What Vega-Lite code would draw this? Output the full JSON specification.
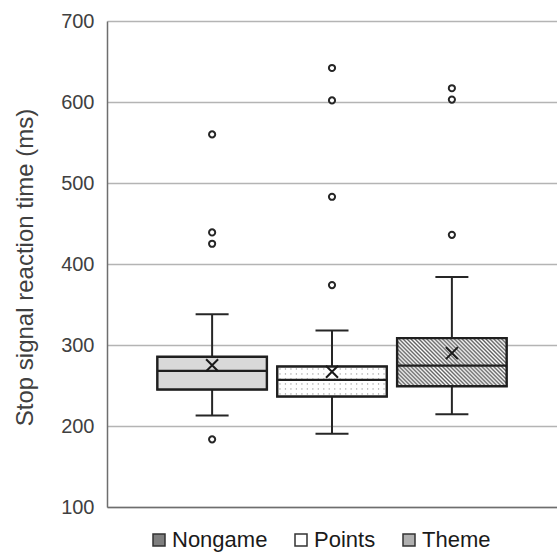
{
  "$schema": "https://vega.github.io/schema/vega-lite/v6.json",
  "autosize": {"type": "none"},
  "padding": {"left": 107, "top": 21, "right": 0, "bottom": 45},
  "width": 450,
  "height": 486,
  "config": {
    "view": {"stroke": null},
    "axisY": {
      "grid": true, "gridColor": "#b4b4b4", "gridWidth": 1.5,
      "domain": true, "domainColor": "#6e6e6e", "domainWidth": 1.5,
      "ticks": false, "tickCount": 6,
      "labelFontSize": 20, "labelFont": "Liberation Sans", "labelColor": "#404040", "labelPadding": 13,
      "titleFontSize": 24, "titleFont": "Liberation Sans", "titleFontWeight": "normal", "titleColor": "#404040"
    }
  },
  "datasets": {
    "boxes": [
      {"group": "Nongame", "lower": 213, "q1": 245, "median": 268, "q3": 285.5, "upper": 338, "mean": 275},
      {"group": "Points", "lower": 190.5, "q1": 236.5, "median": 257, "q3": 273.5, "upper": 318, "mean": 267},
      {"group": "Theme", "lower": 214.5, "q1": 249, "median": 274.5, "q3": 308.5, "upper": 384, "mean": 290}
    ],
    "outliers": [
      {"group": "Nongame", "value": 560},
      {"group": "Nongame", "value": 439},
      {"group": "Nongame", "value": 425},
      {"group": "Nongame", "value": 183.5},
      {"group": "Points", "value": 642},
      {"group": "Points", "value": 602},
      {"group": "Points", "value": 483},
      {"group": "Points", "value": 374},
      {"group": "Theme", "value": 617},
      {"group": "Theme", "value": 603},
      {"group": "Theme", "value": 436}
    ]
  },
  "encoding": {
    "x": {
      "field": "group", "type": "nominal",
      "scale": {"domain": ["Nongame", "Points", "Theme"], "paddingInner": 0.0864, "paddingOuter": 0.42, "align": 0.5},
      "axis": {"title": null, "labels": false, "ticks": false, "grid": false, "domainColor": "#6e6e6e", "domainWidth": 1.5}
    }
  },
  "layer": [
    {
      "data": {"name": "boxes"},
      "mark": {"type": "rule", "color": "#262626", "strokeWidth": 2, "opacity": 1},
      "encoding": {
        "y": {"field": "lower", "type": "quantitative", "title": "Stop signal reaction time (ms)",
              "scale": {"domain": [100, 700], "zero": false, "nice": false},
              "axis": {"titleX": -82, "titleY": 246, "titleBaseline": "middle", "titleAlign": "center"}},
        "y2": {"field": "upper"}
      }
    },
    {
      "data": {"name": "boxes"},
      "mark": {"type": "tick", "color": "#262626", "size": 33, "thickness": 2, "opacity": 1},
      "encoding": {"y": {"field": "lower", "type": "quantitative", "scale": {"domain": [100, 700], "zero": false, "nice": false}}}
    },
    {
      "data": {"name": "boxes"},
      "mark": {"type": "tick", "color": "#262626", "size": 33, "thickness": 2, "opacity": 1},
      "encoding": {"y": {"field": "upper", "type": "quantitative", "scale": {"domain": [100, 700], "zero": false, "nice": false}}}
    },
    {
      "data": {"name": "boxes"},
      "mark": {"type": "bar", "stroke": "#262626", "strokeWidth": 1.5},
      "encoding": {
        "y": {"field": "q1", "type": "quantitative", "scale": {"domain": [100, 700], "zero": false, "nice": false}},
        "y2": {"field": "q3"},
        "fill": {
          "field": "group", "type": "nominal",
          "scale": {"domain": ["Nongame", "Points", "Theme"], "range": ["#7f7f7f", "#ffffff", "#b0b0b0"]},
          "legend": {
            "orient": "none", "legendX": 41, "legendY": 508, "direction": "horizontal", "title": null,
            "symbolType": "square", "symbolSize": 144, "symbolStrokeColor": "#333333", "symbolStrokeWidth": 1.5,
            "labelFontSize": 22, "labelFont": "Liberation Sans", "labelColor": "#1a1a1a", "labelOffset": 2, "columnPadding": 22
          }
        }
      }
    },
    {
      "data": {"name": "boxes"},
      "transform": [{"filter": "datum.group === 'Nongame'"}],
      "mark": {"type": "bar", "fill": "#d9d9d9"},
      "encoding": {
        "y": {"field": "q1", "type": "quantitative", "scale": {"domain": [100, 700], "zero": false, "nice": false}},
        "y2": {"field": "q3"}
      }
    },
    {
      "data": {"name": "boxes"},
      "transform": [{"filter": "datum.group === 'Points'"}],
      "mark": {"type": "bar", "fill": {"gradient": "linear", "x1": 0, "y1": 0, "x2": 1, "y2": 0, "stops": [
        {"offset": 0, "color": "#ffffff"},
        {"offset": 0.015, "color": "#ffffff"}, {"offset": 0.025, "color": "#8c8c8c"}, {"offset": 0.035, "color": "#ffffff"},
        {"offset": 0.065, "color": "#ffffff"}, {"offset": 0.075, "color": "#8c8c8c"}, {"offset": 0.085, "color": "#ffffff"},
        {"offset": 0.115, "color": "#ffffff"}, {"offset": 0.125, "color": "#8c8c8c"}, {"offset": 0.135, "color": "#ffffff"},
        {"offset": 0.165, "color": "#ffffff"}, {"offset": 0.175, "color": "#8c8c8c"}, {"offset": 0.185, "color": "#ffffff"},
        {"offset": 0.215, "color": "#ffffff"}, {"offset": 0.225, "color": "#8c8c8c"}, {"offset": 0.235, "color": "#ffffff"},
        {"offset": 0.265, "color": "#ffffff"}, {"offset": 0.275, "color": "#8c8c8c"}, {"offset": 0.285, "color": "#ffffff"},
        {"offset": 0.315, "color": "#ffffff"}, {"offset": 0.325, "color": "#8c8c8c"}, {"offset": 0.335, "color": "#ffffff"},
        {"offset": 0.365, "color": "#ffffff"}, {"offset": 0.375, "color": "#8c8c8c"}, {"offset": 0.385, "color": "#ffffff"},
        {"offset": 0.415, "color": "#ffffff"}, {"offset": 0.425, "color": "#8c8c8c"}, {"offset": 0.435, "color": "#ffffff"},
        {"offset": 0.465, "color": "#ffffff"}, {"offset": 0.475, "color": "#8c8c8c"}, {"offset": 0.485, "color": "#ffffff"},
        {"offset": 0.515, "color": "#ffffff"}, {"offset": 0.525, "color": "#8c8c8c"}, {"offset": 0.535, "color": "#ffffff"},
        {"offset": 0.565, "color": "#ffffff"}, {"offset": 0.575, "color": "#8c8c8c"}, {"offset": 0.585, "color": "#ffffff"},
        {"offset": 0.615, "color": "#ffffff"}, {"offset": 0.625, "color": "#8c8c8c"}, {"offset": 0.635, "color": "#ffffff"},
        {"offset": 0.665, "color": "#ffffff"}, {"offset": 0.675, "color": "#8c8c8c"}, {"offset": 0.685, "color": "#ffffff"},
        {"offset": 0.715, "color": "#ffffff"}, {"offset": 0.725, "color": "#8c8c8c"}, {"offset": 0.735, "color": "#ffffff"},
        {"offset": 0.765, "color": "#ffffff"}, {"offset": 0.775, "color": "#8c8c8c"}, {"offset": 0.785, "color": "#ffffff"},
        {"offset": 0.815, "color": "#ffffff"}, {"offset": 0.825, "color": "#8c8c8c"}, {"offset": 0.835, "color": "#ffffff"},
        {"offset": 0.865, "color": "#ffffff"}, {"offset": 0.875, "color": "#8c8c8c"}, {"offset": 0.885, "color": "#ffffff"},
        {"offset": 0.915, "color": "#ffffff"}, {"offset": 0.925, "color": "#8c8c8c"}, {"offset": 0.935, "color": "#ffffff"},
        {"offset": 0.965, "color": "#ffffff"}, {"offset": 0.975, "color": "#8c8c8c"}, {"offset": 0.985, "color": "#ffffff"},
        {"offset": 1, "color": "#ffffff"}
      ]}},
      "encoding": {
        "y": {"field": "q1", "type": "quantitative", "scale": {"domain": [100, 700], "zero": false, "nice": false}},
        "y2": {"field": "q3"}
      }
    },
    {
      "data": {"name": "boxes"},
      "transform": [{"filter": "datum.group === 'Points'"}],
      "mark": {"type": "bar", "fill": {"gradient": "linear", "x1": 0, "y1": 0, "x2": 0, "y2": 1, "stops": [
        {"offset": 0, "color": "#ffffff"},
        {"offset": 0.045, "color": "#ffffff"}, {"offset": 0.0833, "color": "rgba(255,255,255,0)"}, {"offset": 0.122, "color": "#ffffff"},
        {"offset": 0.2117, "color": "#ffffff"}, {"offset": 0.25, "color": "rgba(255,255,255,0)"}, {"offset": 0.2883, "color": "#ffffff"},
        {"offset": 0.3783, "color": "#ffffff"}, {"offset": 0.4167, "color": "rgba(255,255,255,0)"}, {"offset": 0.455, "color": "#ffffff"},
        {"offset": 0.545, "color": "#ffffff"}, {"offset": 0.5833, "color": "rgba(255,255,255,0)"}, {"offset": 0.6217, "color": "#ffffff"},
        {"offset": 0.7117, "color": "#ffffff"}, {"offset": 0.75, "color": "rgba(255,255,255,0)"}, {"offset": 0.7883, "color": "#ffffff"},
        {"offset": 0.8783, "color": "#ffffff"}, {"offset": 0.9167, "color": "rgba(255,255,255,0)"}, {"offset": 0.955, "color": "#ffffff"},
        {"offset": 1, "color": "#ffffff"}
      ]}},
      "encoding": {
        "y": {"field": "q1", "type": "quantitative", "scale": {"domain": [100, 700], "zero": false, "nice": false}},
        "y2": {"field": "q3"}
      }
    },
    {
      "data": {"name": "boxes"},
      "transform": [{"filter": "datum.group === 'Theme'"}],
      "mark": {"type": "bar", "fill": {"gradient": "linear", "x1": 0, "y1": 1, "x2": 1.207, "y2": 0.47, "stops": [
        {"offset": 0, "color": "#ffffff"}, {"offset": 0.0125, "color": "#606060"},
        {"offset": 0.025, "color": "#ffffff"}, {"offset": 0.0375, "color": "#606060"},
        {"offset": 0.05, "color": "#ffffff"}, {"offset": 0.0625, "color": "#606060"},
        {"offset": 0.075, "color": "#ffffff"}, {"offset": 0.0875, "color": "#606060"},
        {"offset": 0.1, "color": "#ffffff"}, {"offset": 0.1125, "color": "#606060"},
        {"offset": 0.125, "color": "#ffffff"}, {"offset": 0.1375, "color": "#606060"},
        {"offset": 0.15, "color": "#ffffff"}, {"offset": 0.1625, "color": "#606060"},
        {"offset": 0.175, "color": "#ffffff"}, {"offset": 0.1875, "color": "#606060"},
        {"offset": 0.2, "color": "#ffffff"}, {"offset": 0.2125, "color": "#606060"},
        {"offset": 0.225, "color": "#ffffff"}, {"offset": 0.2375, "color": "#606060"},
        {"offset": 0.25, "color": "#ffffff"}, {"offset": 0.2625, "color": "#606060"},
        {"offset": 0.275, "color": "#ffffff"}, {"offset": 0.2875, "color": "#606060"},
        {"offset": 0.3, "color": "#ffffff"}, {"offset": 0.3125, "color": "#606060"},
        {"offset": 0.325, "color": "#ffffff"}, {"offset": 0.3375, "color": "#606060"},
        {"offset": 0.35, "color": "#ffffff"}, {"offset": 0.3625, "color": "#606060"},
        {"offset": 0.375, "color": "#ffffff"}, {"offset": 0.3875, "color": "#606060"},
        {"offset": 0.4, "color": "#ffffff"}, {"offset": 0.4125, "color": "#606060"},
        {"offset": 0.425, "color": "#ffffff"}, {"offset": 0.4375, "color": "#606060"},
        {"offset": 0.45, "color": "#ffffff"}, {"offset": 0.4625, "color": "#606060"},
        {"offset": 0.475, "color": "#ffffff"}, {"offset": 0.4875, "color": "#606060"},
        {"offset": 0.5, "color": "#ffffff"}, {"offset": 0.5125, "color": "#606060"},
        {"offset": 0.525, "color": "#ffffff"}, {"offset": 0.5375, "color": "#606060"},
        {"offset": 0.55, "color": "#ffffff"}, {"offset": 0.5625, "color": "#606060"},
        {"offset": 0.575, "color": "#ffffff"}, {"offset": 0.5875, "color": "#606060"},
        {"offset": 0.6, "color": "#ffffff"}, {"offset": 0.6125, "color": "#606060"},
        {"offset": 0.625, "color": "#ffffff"}, {"offset": 0.6375, "color": "#606060"},
        {"offset": 0.65, "color": "#ffffff"}, {"offset": 0.6625, "color": "#606060"},
        {"offset": 0.675, "color": "#ffffff"}, {"offset": 0.6875, "color": "#606060"},
        {"offset": 0.7, "color": "#ffffff"}, {"offset": 0.7125, "color": "#606060"},
        {"offset": 0.725, "color": "#ffffff"}, {"offset": 0.7375, "color": "#606060"},
        {"offset": 0.75, "color": "#ffffff"}, {"offset": 0.7625, "color": "#606060"},
        {"offset": 0.775, "color": "#ffffff"}, {"offset": 0.7875, "color": "#606060"},
        {"offset": 0.8, "color": "#ffffff"}, {"offset": 0.8125, "color": "#606060"},
        {"offset": 0.825, "color": "#ffffff"}, {"offset": 0.8375, "color": "#606060"},
        {"offset": 0.85, "color": "#ffffff"}, {"offset": 0.8625, "color": "#606060"},
        {"offset": 0.875, "color": "#ffffff"}, {"offset": 0.8875, "color": "#606060"},
        {"offset": 0.9, "color": "#ffffff"}, {"offset": 0.9125, "color": "#606060"},
        {"offset": 0.925, "color": "#ffffff"}, {"offset": 0.9375, "color": "#606060"},
        {"offset": 0.95, "color": "#ffffff"}, {"offset": 0.9625, "color": "#606060"},
        {"offset": 0.975, "color": "#ffffff"}, {"offset": 0.9875, "color": "#606060"},
        {"offset": 1, "color": "#ffffff"}
      ]}},
      "encoding": {
        "y": {"field": "q1", "type": "quantitative", "scale": {"domain": [100, 700], "zero": false, "nice": false}},
        "y2": {"field": "q3"}
      }
    },
    {
      "data": {"name": "boxes"},
      "mark": {"type": "bar", "fill": "transparent", "stroke": "#1f1f1f", "strokeWidth": 2.4},
      "encoding": {
        "y": {"field": "q1", "type": "quantitative", "scale": {"domain": [100, 700], "zero": false, "nice": false}},
        "y2": {"field": "q3"}
      }
    },
    {
      "data": {"name": "boxes"},
      "mark": {"type": "tick", "color": "#1f1f1f", "size": 109.5, "thickness": 2.4, "opacity": 1},
      "encoding": {"y": {"field": "median", "type": "quantitative", "scale": {"domain": [100, 700], "zero": false, "nice": false}}}
    },
    {
      "data": {"name": "boxes"},
      "mark": {"type": "point", "shape": "M-1,-1L1,1M-1,1L1,-1", "filled": false, "stroke": "#1a1a1a", "strokeWidth": 2, "size": 144, "opacity": 1},
      "encoding": {"y": {"field": "mean", "type": "quantitative", "scale": {"domain": [100, 700], "zero": false, "nice": false}}}
    },
    {
      "data": {"name": "outliers"},
      "mark": {"type": "point", "shape": "circle", "filled": true, "fill": "#ffffff", "stroke": "#262626", "strokeWidth": 2, "size": 38, "opacity": 1},
      "encoding": {"y": {"field": "value", "type": "quantitative", "scale": {"domain": [100, 700], "zero": false, "nice": false}}}
    }
  ]
}
